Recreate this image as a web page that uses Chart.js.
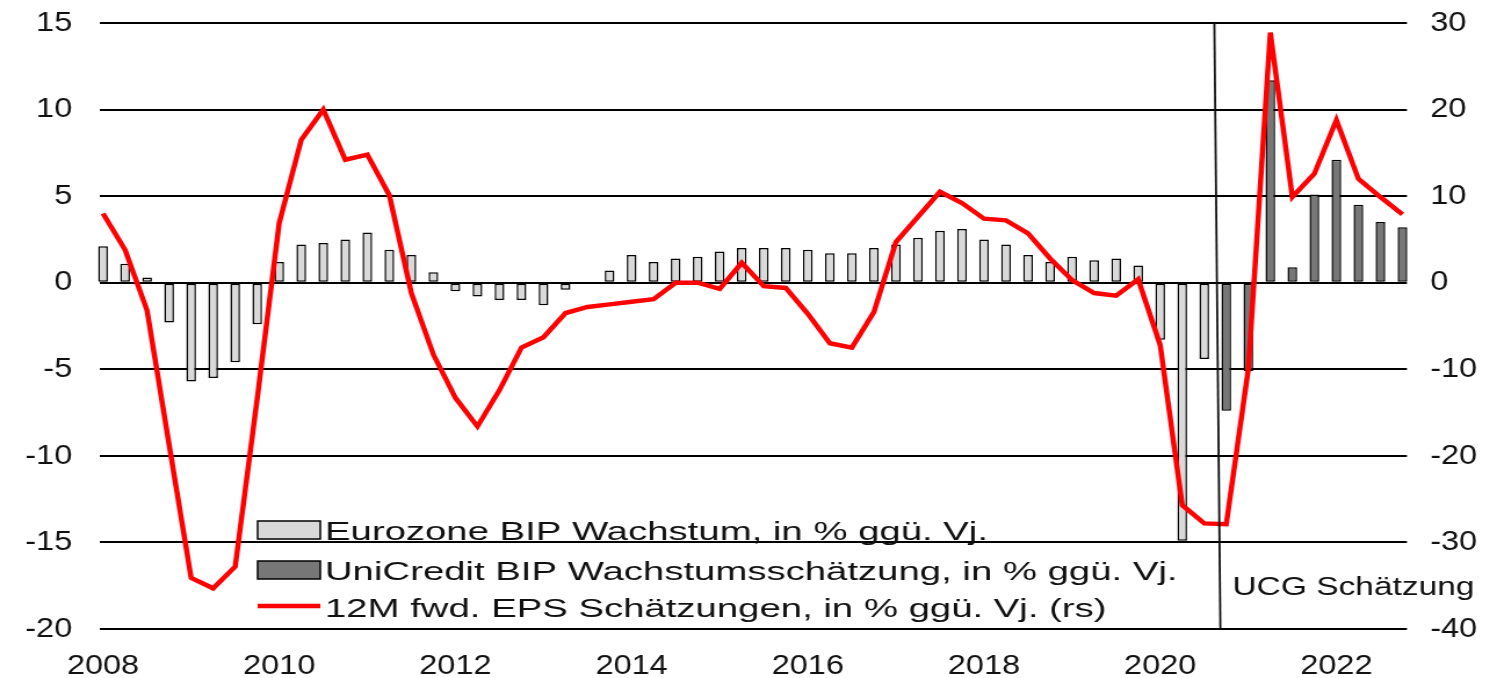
<!DOCTYPE html>
<html>
<head>
<meta charset="utf-8">
<script src="https://cdn.jsdelivr.net/npm/chart.js@4.4.1/dist/chart.umd.min.js"></script>
<style>
  html, body { margin: 0; padding: 0; background: #fff; overflow: hidden; }
  canvas { display: block; }
</style>
</head>
<body>
<!-- the reference is stretched horizontally, so the canvas is drawn narrower and scaled up by CSS -->
<canvas id="chart" width="1290" height="678" style="width:1497px;height:678px"></canvas>
<script>
// quarters 2008Q1 .. 2022Q4, placed on a year axis
const quarters = [];
const quarterPos = [];
for (let y = 2008; y <= 2022; y++) {
  for (let q = 1; q <= 4; q++) {
    quarters.push(y + 'Q' + q);
    quarterPos.push(y + (q - 1) / 4);
  }
}

// Eurozone GDP growth, % y/y (2008Q1 - 2020Q3)
const eurozoneGdp = [
  2.1, 1.1, 0.3, -2.3,
  -5.7, -5.5, -4.6, -2.4,
  1.2, 2.2, 2.3, 2.5,
  2.9, 1.9, 1.6, 0.6,
  -0.5, -0.8, -1.0, -1.0,
  -1.3, -0.4, 0.05, 0.7,
  1.6, 1.2, 1.4, 1.5,
  1.8, 2.0, 2.0, 2.0,
  1.9, 1.7, 1.7, 2.0,
  2.2, 2.6, 3.0, 3.1,
  2.5, 2.2, 1.6, 1.2,
  1.5, 1.3, 1.4, 1.0,
  -3.3, -14.9, -4.4
];

// UniCredit GDP estimate, % y/y (2020Q4 - 2022Q4)
const unicreditGdp = [-7.4, -5.1, 11.7, 0.9, 5.1, 7.1, 4.5, 3.5, 3.2];

// 12M fwd. EPS estimates, % y/y (right scale)
const epsEstimates = [
  8.0, 3.8, -3.2, -18.7,
  -34.1, -35.3, -32.8, -13.4,
  6.9, 16.5, 20.0, 14.2,
  14.8, 10.1, -1.2, -8.3,
  -13.3, -16.6, -12.4, -7.5,
  -6.3, -3.5, -2.8, -2.5,
  -2.2, -1.9, 0.0, 0.0,
  -0.7, 2.3, -0.4, -0.6,
  -3.6, -7.0, -7.5, -3.4,
  4.7, 7.6, 10.5, 9.2,
  7.4, 7.2, 5.7, 2.8,
  0.3, -1.2, -1.5, 0.4,
  -7.2, -25.7, -27.8, -27.9,
  -10.0, 28.9, 9.9, 12.6,
  18.8, 12.0, 9.9, 7.9
];

const yearTicks = [2008, 2010, 2012, 2014, 2016, 2018, 2020, 2022];
const leftTicks = [-20, -15, -10, -5, 0, 5, 10, 15];
const rightTicks = [-40, -30, -20, -10, 0, 10, 20, 30];

const estimateLabel = 'UCG Schätzung';
// forecast divider, drawn slightly slanted like the original
const splitTop = 2020.615;
const splitBottom = 2020.683;

const fontFamily = "'Liberation Sans', Arial, sans-serif";
const tickFont = { family: fontFamily, size: 28 };

const euroPoints = eurozoneGdp.map((v, i) => ({ x: quarterPos[i], y: v }));
const ucgPoints = unicreditGdp.map((v, i) => ({ x: quarterPos[eurozoneGdp.length + i], y: v }));
const epsPoints = epsEstimates.map((v, i) => ({ x: quarterPos[i], y: v }));

function stretchedText(ctx, text, x, y, kx) {
  ctx.save();
  ctx.translate(x, y);
  ctx.scale(kx, 1);
  ctx.fillText(text, 0, 0);
  ctx.restore();
}

// y axes: keep the label gap but don't let it push the plot down
function fixYAxis(width) {
  return s => {
    s.width = width;
    s.paddingTop = 0;
    s.paddingBottom = 0;
  };
}

const overlay = {
  id: 'overlay',
  afterDatasetsDraw(chart) {
    const { ctx, chartArea, scales } = chart;
    ctx.save();

    ctx.strokeStyle = '#111';
    ctx.lineWidth = 1.8;
    ctx.beginPath();
    ctx.moveTo(scales.x.getPixelForValue(splitTop), chartArea.top);
    ctx.lineTo(scales.x.getPixelForValue(splitBottom), chartArea.bottom);
    ctx.stroke();

    ctx.fillStyle = '#111';
    ctx.font = '26px ' + fontFamily;
    ctx.textBaseline = 'alphabetic';
    ctx.textAlign = 'left';
    stretchedText(ctx, estimateLabel, 1062, 595, 1.11);

    // legend in the lower left of the plot
    const rows = [540, 580, 617];
    chart.data.datasets.forEach((ds, i) => {
      const base = rows[i];
      if (ds.type === 'line') {
        ctx.strokeStyle = ds.borderColor;
        ctx.lineWidth = 4.5;
        ctx.beginPath();
        ctx.moveTo(222, base - 11);
        ctx.lineTo(276, base - 11);
        ctx.stroke();
      } else {
        ctx.fillStyle = ds.backgroundColor;
        ctx.fillRect(222, base - 19, 54, 18);
        ctx.strokeStyle = '#000';
        ctx.lineWidth = 1.5;
        ctx.strokeRect(222, base - 19, 54, 18);
      }
      ctx.fillStyle = '#111';
      stretchedText(ctx, ds.label, 280, base, 1.27);
    });

    ctx.restore();
  }
};

new Chart(document.getElementById('chart').getContext('2d'), {
  data: {
    datasets: [
      {
        type: 'bar',
        label: 'Eurozone BIP Wachstum, in % ggü. Vj.',
        data: euroPoints,
        yAxisID: 'y',
        backgroundColor: '#d9d9d9',
        borderColor: '#000',
        borderWidth: 1.5,
        borderSkipped: false,
        grouped: false,
        barPercentage: 0.44,
        categoryPercentage: 1,
        clip: 6,
        order: 1
      },
      {
        type: 'bar',
        label: 'UniCredit BIP Wachstumsschätzung, in % ggü. Vj.',
        data: ucgPoints,
        yAxisID: 'y',
        backgroundColor: '#777777',
        borderColor: '#000',
        borderWidth: 1.5,
        borderSkipped: false,
        grouped: false,
        barPercentage: 0.44,
        categoryPercentage: 1,
        clip: 6,
        order: 1
      },
      {
        type: 'line',
        label: '12M fwd. EPS Schätzungen, in % ggü. Vj. (rs)',
        data: epsPoints,
        yAxisID: 'y2',
        borderColor: '#ff0000',
        borderWidth: 4.5,
        pointRadius: 0,
        tension: 0,
        fill: false,
        order: 0
      }
    ]
  },
  options: {
    responsive: false,
    devicePixelRatio: 1,
    animation: false,
    events: [],
    layout: { padding: { top: 23, left: 0, right: 0, bottom: 0 } },
    plugins: {
      legend: { display: false },
      tooltip: { enabled: false },
      title: { display: false }
    },
    scales: {
      x: {
        type: 'linear',
        offset: false,
        min: 2007.966,
        max: 2022.801,
        grid: { display: false, drawTicks: false },
        border: { display: false },
        afterBuildTicks: s => { s.ticks = yearTicks.map(v => ({ value: v })); },
        afterFit: s => { s.height = 49; },
        ticks: {
          font: tickFont,
          color: '#111',
          padding: 20,
          maxRotation: 0,
          autoSkip: false,
          callback: v => String(v)
        }
      },
      y: {
        position: 'left',
        min: -20,
        max: 15,
        afterBuildTicks: s => { s.ticks = leftTicks.map(v => ({ value: v })); },
        afterFit: fixYAxis(86.2),
        grid: { color: '#000', lineWidth: 2, drawTicks: false },
        border: { display: false },
        ticks: { font: tickFont, color: '#111', padding: 24, callback: v => String(v) }
      },
      y2: {
        position: 'right',
        min: -40,
        max: 30,
        afterBuildTicks: s => { s.ticks = rightTicks.map(v => ({ value: v })); },
        afterFit: fixYAxis(77.6),
        grid: { display: false, drawTicks: false },
        border: { display: false },
        ticks: { font: tickFont, color: '#111', padding: 20, callback: v => String(v) }
      }
    }
  },
  plugins: [overlay]
});
</script>
</body>
</html>
